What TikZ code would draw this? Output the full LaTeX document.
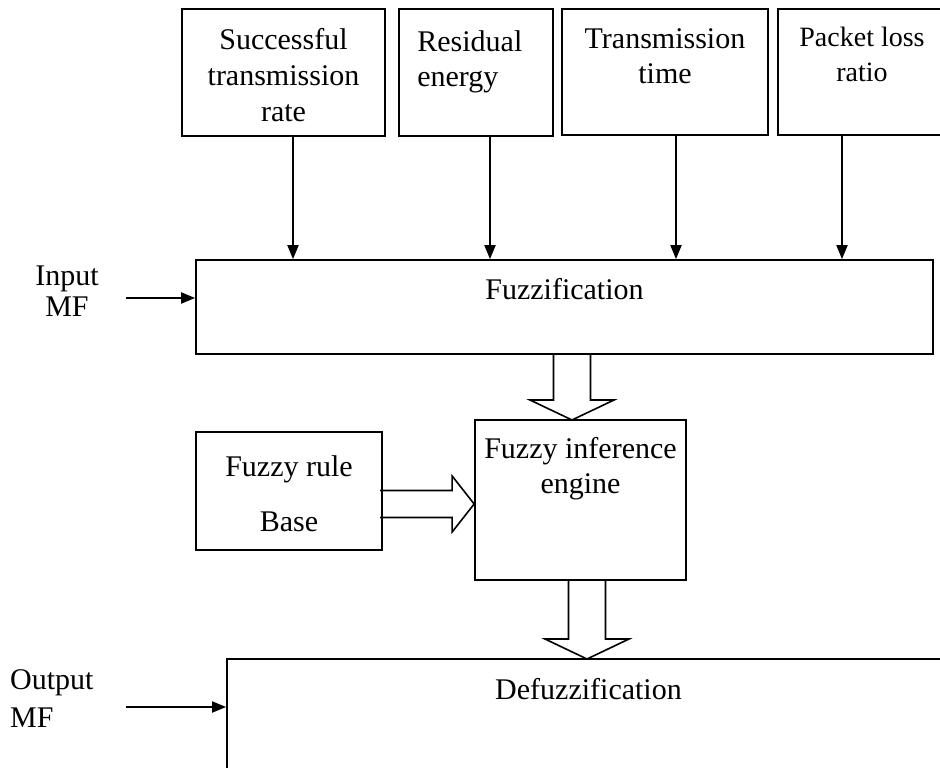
\documentclass[tikz,border=0pt]{standalone}
\usepackage{fontspec}
\setmainfont{Liberation Serif}
\usepackage{tikz}
\usetikzlibrary{calc,positioning,arrows.meta}
\tikzset{
	blk/.style={draw, line width=1.7pt, rectangle, inner sep=0pt},
	txt/.style={inner sep=0pt, align=center},
	arr/.style={line width=1.8pt, -{Triangle[length=14pt,width=11pt]}},
	fat/.style={line width=1.6pt, line join=miter}
}
\def\fatdown(#1)(#2){\draw[fat] ($(#1)+(-18.5,-#2)$) -- ($(#1)+(-18.5,-20)$) -- ($(#1)+(-42,-20)$) -- (#1) -- ($(#1)+(42,-20)$) -- ($(#1)+(18.5,-20)$) -- ($(#1)+(18.5,-#2)$);}
\def\fatright(#1)(#2){\draw[fat] ($(#1)+(-#2,-13.5)$) -- ($(#1)+(-22,-13.5)$) -- ($(#1)+(-22,-28)$) -- (#1) -- ($(#1)+(-22,28)$) -- ($(#1)+(-22,13.5)$) -- ($(#1)+(-#2,13.5)$);}

\begin{document}
\begin{tikzpicture}[x=1pt, y=-1pt, font=\fontsize{30}{35}\selectfont]
			%%%%% START %%%%%
			\useasboundingbox (0,0) rectangle (940,768);
			\clip (0,0) rectangle (940,768);
			
			% input boxes
			\node[blk, minimum width=203, minimum height=127] (rate) at (283.5,72.5) {};
			\node[blk, minimum width=154, minimum height=127] (energy) at (476,72.5) {};
			\node[blk, minimum width=206, minimum height=126] (time) at (665,72) {};
			\node[blk, minimum width=168, minimum height=126] (loss) at (862,72) {};
			
			\node[txt, font=\fontsize{30}{36}\selectfont, below=20pt of rate.north] (ratet) {Successful\\transmission\\rate};
			\node[txt, align=left, below right=22pt and 19pt of energy.north west] (energyt) {Residual\\energy};
			\node[txt, below=20pt of time.north] (timet) {Transmission\\time};
			\node[txt, font=\fontsize{28}{35}\selectfont, below=19pt of loss.north] (losst) {Packet loss\\ratio};
			
			% fuzzification
			\node[blk, minimum width=737, minimum height=94] (fuzz) at (564.5,307) {};
			\node[txt, below=19pt of fuzz.north] (fuzzt) {Fuzzification};
			
			\coordinate (a1) at (293,0);
			\coordinate (a2) at (490,0);
			\coordinate (a3) at (676,0);
			\coordinate (a4) at (842,0);
			\draw[arr] (rate.south -| a1) -- (fuzz.north -| a1);
			\draw[arr] (energy.south -| a2) -- (fuzz.north -| a2);
			\draw[arr] (time.south -| a3) -- (fuzz.north -| a3);
			\draw[arr] (loss.south -| a4) -- (fuzz.north -| a4);
			
			\node[txt, font=\fontsize{30}{31}\selectfont] (inmf) at (67,291) {Input\\MF};
			\coordinate (inmfs) at (126,298);
			\draw[arr] (inmfs) -- (inmfs -| fuzz.west);
			
			% rule base and inference
			\node[blk, minimum width=186, minimum height=118] (rule) at (289,491) {};
			\node[txt, below=24pt of rule.north] (rulet) {Fuzzy rule\\[20pt]Base};
			
			\node[blk, minimum width=211, minimum height=160] (fie) at (580.5,500) {};
			\node[txt, below=18pt of fie.north] (fiet) {Fuzzy inference\\engine};
			
			\coordinate (t1) at (572,420);
			\fatdown(t1)(66)
			\coordinate (t2) at (fie.west |- 0,504);
			\fatright(t2)(94)
			
			% defuzzification
			\node[blk, minimum width=723, minimum height=141] (defuzz) at (588.5,729.5) {};
			\node[txt, below=20pt of defuzz.north] (defuzzt) {Defuzzification};
			
			\coordinate (t3) at (587,659);
			\fatdown(t3)(79)
			
			\node[txt, align=left, anchor=north west] (outmf) at (10,669) {Output\\[3pt]MF};
			\coordinate (outmfs) at (126,707);
			\draw[arr] (outmfs) -- (outmfs -| defuzz.west);
			
			%%%%% END %%%%%
\end{tikzpicture}
\end{document}
